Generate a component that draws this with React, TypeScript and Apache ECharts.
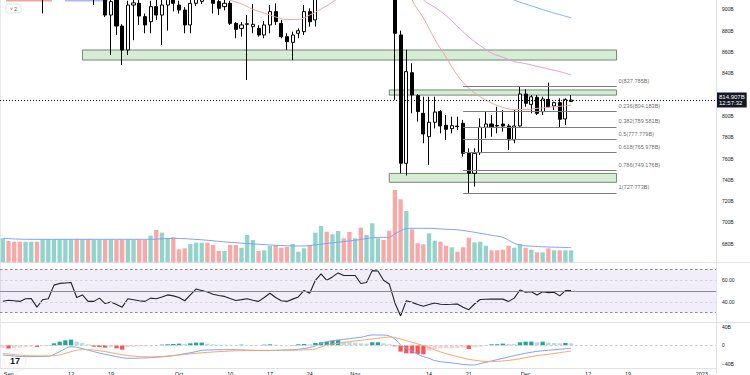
import { useEffect, useRef } from "react";
import * as echarts from "echarts";

// ---------- categories (daily, 31 Aug 2022 .. 3 Jan 2023) ----------
const START_UTC = Date.UTC(2022, 7, 31);
const CATEGORY_COUNT = 126;
const categories: string[] = Array.from({ length: CATEGORY_COUNT }, (_, i) =>
  new Date(START_UTC + i * 86400000).toISOString().slice(0, 10)
);

const tickLabels: Record<string, string> = {
  "2022-09-01": "Sep", "2022-09-12": "12", "2022-09-19": "19",
  "2022-10-01": "Oct", "2022-10-10": "10", "2022-10-17": "17", "2022-10-24": "24",
  "2022-11-01": "Nov", "2022-11-14": "14", "2022-11-21": "21",
  "2022-12-01": "Dec", "2022-12-12": "12", "2022-12-19": "19",
  "2023-01-01": "2023",
};

const priceTicks = [680, 700, 720, 740, 760, 780, 800, 820, 840, 860, 880, 900];
const rsiTicks = [40, 60];
const macdTicks = [40, 0, -40];

// ---------- candles [open, close, low, high] (B) ----------
const candles: number[][] = [
  [935, 940, 925, 955], [940, 930, 922, 948], [930, 925, 915, 938], [925, 922, 917, 930],
  [922, 928, 918, 933], [928, 932, 925, 940], [932, 912, 910, 937], [912, 925, 896.2, 928],
  [925, 930, 918, 935], [930, 965, 928, 968], [965, 975, 960, 982], [975, 978, 968, 985],
  [978, 985, 970, 995], [985, 935, 928, 992], [935, 940, 925, 945], [940, 925, 915, 945],
  [925, 930, 904, 935], [930, 932, 912, 945], [932, 894.6, 892.8, 935], [894.6, 907.2, 857.1, 912],
  [910, 884.3, 876, 918], [884.3, 861.8, 847.7, 886], [861.8, 904, 857.1, 908], [904, 906, 871, 912],
  [905.6, 893.7, 885.3, 910], [893.1, 885.3, 877.5, 896], [888.4, 902.5, 877.5, 908], [902.5, 894.6, 890, 909],
  [894.6, 904, 866.5, 912], [904, 910, 880, 915], [915, 905.6, 898, 918], [904, 899.3, 896, 908],
  [899.3, 885.3, 877.5, 902], [885.3, 905.6, 877.5, 909], [905.6, 912, 903, 918], [907.5, 912, 905, 920],
  [914, 910, 909, 921], [912, 905.6, 896, 916], [907.2, 900.9, 894.6, 912], [902.5, 905.6, 899, 910],
  [905.6, 886.8, 885.3, 908], [886.8, 881.2, 872.8, 888], [882.1, 885.3, 874.3, 888], [885.9, 886.4, 833.7, 894.6],
  [883.7, 885.9, 877.5, 905], [882.1, 875.9, 874.3, 885], [875.9, 885.3, 872.8, 889], [885.3, 897.8, 877.5, 904],
  [897.8, 888.4, 885.3, 905.6], [886.8, 874.3, 872.8, 890], [874.3, 869.6, 861.8, 877.5], [869, 875.9, 852.4, 879],
  [877.5, 879.9, 872.8, 882.1], [879, 897.8, 875.9, 904], [897.8, 888.4, 883.7, 900.9], [890, 925, 883.7, 930],
  [925, 950, 918, 955], [950, 940, 930, 958], [940, 948, 935, 955], [948, 960, 942, 966],
  [960, 955, 948, 968], [955, 953, 945, 962], [953, 958, 946, 965], [958, 940, 935, 962],
  [940, 942, 932, 948], [942, 975, 938, 982], [975, 978, 968, 985], [978, 960, 955, 982],
  [960, 955, 940, 965], [955, 877.5, 815, 960], [875.9, 755.5, 746.1, 880], [755.5, 841.5, 744, 862],
  [840.5, 819.6, 802.4, 849.3], [819, 804, 794.6, 820.5], [802.4, 783, 774.3, 818], [780.5, 794, 754, 818],
  [794, 803.6, 788.3, 818], [804, 790.5, 783.6, 805.5], [791.2, 787.4, 777.4, 800.8], [788, 790.8, 783.6, 799.3],
  [790.5, 789.9, 786.8, 799.3], [793, 764.9, 761.7, 796.2], [764.9, 746.1, 727.8, 769.6], [746.1, 764.9, 733.6, 769.6],
  [765.5, 789.3, 763.3, 797.7], [789.3, 792.4, 779, 804], [792.4, 789.9, 780.5, 800.8], [791, 790.5, 783.6, 808.6],
  [792.4, 790.5, 785.2, 805.5], [790.5, 777.4, 768, 792.4], [777.4, 790.5, 774.3, 805.5], [790.5, 820.5, 789.9, 827.8],
  [820.5, 811.8, 808.6, 824.9], [810.8, 817.9, 802.4, 819.6], [817.4, 802.4, 800.8, 819.6], [804, 815.8, 800.8, 818],
  [815.5, 808.6, 808, 831.2], [809.3, 812.4, 805.5, 813.4], [812.4, 796.8, 789.3, 816.5], [797.1, 815.5, 791.5, 816.5],
  [813.5, 814.907, 813, 819.6],
];

const lastPrice = 814.907;
const lastPriceLabel = "814.907B\n12:57:32";

// ---------- moving averages on price [index, value] ----------
const maRed: number[][] = [
  [36, 916], [38, 912], [40, 908.5], [42, 905], [44, 900], [46, 896.5], [48, 892.8], [50, 890.4],
  [52, 890.5], [54, 894.6], [56, 900.3], [58, 906.8], [60, 915], [62, 925], [64, 935], [66, 945],
  [68, 950], [70, 945], [71, 930], [72, 909], [74, 892], [76, 872], [78, 855], [80, 838],
  [82, 826], [84, 818], [86, 812], [88, 808], [90, 806], [92, 806], [94, 807], [96, 808],
  [98, 809], [100, 810],
];
const maMagenta: number[][] = [
  [66, 960], [70, 945], [72, 925], [74, 909], [76, 902], [78, 894], [80, 884], [82, 874],
  [84, 866], [86, 859], [88, 855], [90, 851], [92, 849], [94, 846.5], [96, 844], [98, 841.5], [100, 838.5],
];
const maBlue: number[][] = [
  [80, 940], [86, 920], [90, 908.7], [92, 905], [94, 901.5], [96, 898], [98, 895], [100, 892],
];

// ---------- fibonacci retracement + zones ----------
const fibLevels = [
  { ratio: "0", value: 827.785 },
  { ratio: "0.236", value: 804.183 },
  { ratio: "0.382", value: 789.581 },
  { ratio: "0.5", value: 777.779 },
  { ratio: "0.618", value: 765.978 },
  { ratio: "0.786", value: 749.176 },
  { ratio: "1", value: 727.773 },
];
const fibStart = 80.8;
const fibEnd = 107.7;

const zones = [
  { from: 13.9, to: 107.7, low: 852.4, high: 861.8 },
  { from: 67.8, to: 107.7, low: 819.5, high: 824.3 },
  { from: 67.8, to: 107.7, low: 737.7, high: 746.0 },
];

// ---------- volume (B) ----------
const volume: number[] = [
  48, 42.6, 41.2, 41.2, 41.2, 41.2, 41.2, 46, 46, 46,
  46, 46, 46, 46, 46, 46, 44.6, 44.6, 44.6, 44.6,
  44.6, 44.6, 44.6, 44.6, 44.6, 44.6, 53.2, 64.6, 59.2, 48,
  50, 26, 28, 36.6, 39.2, 39.2, 39.2, 34.6, 22.6, 22.6,
  34.6, 34.6, 29.2, 54.6, 44.6, 22.6, 24, 32.6, 34.6, 29.2,
  30.6, 36.6, 21.2, 28, 34.6, 59.2, 72.6, 61.2, 56, 62.6,
  48, 60.6, 48, 69.2, 54.6, 78, 48, 44.6, 63.2, 144.6,
  126, 102.6, 66, 38, 36, 58, 43.2, 41.2, 33.2, 30,
  21.2, 30, 49.2, 40, 41.2, 33.2, 24, 24, 25.2, 33.2,
  29.2, 36.6, 29.2, 25.2, 20, 20, 28, 24, 24, 24, 24,
];
const volumeMA: number[][] = [
  [0, 48], [4, 46], [10, 46], [20, 46], [26, 46], [30, 48], [35, 45], [40, 40], [45, 36],
  [50, 33], [53, 32.6], [55, 35], [58, 39], [62, 44], [65, 49], [67, 50], [68, 50], [69, 57],
  [70, 63], [71, 67.5], [72, 68], [75, 68], [78, 66], [80, 65], [83, 60], [86, 54], [88, 50],
  [89, 44], [90, 38], [91, 34], [92, 33], [95, 31], [98, 30], [100, 29.4],
];

// ---------- RSI ----------
const rsi: number[] = [
  40.5, 41.5, 41, 40.4, 42.8, 43, 35.1, 41.9, 42.8, 55.4,
  57, 57.4, 57.8, 44, 46.4, 40.4, 40.4, 43.4, 38.4, 39.9,
  37.5, 35.1, 42.8, 41.9, 41, 40.4, 43.4, 42.8, 44.5, 46.4,
  45.5, 44, 41, 46.5, 51.8, 50.5, 49, 47, 45.8, 45,
  43, 41.3, 42, 42.8, 41.5, 40.4, 44, 47.9, 44, 41,
  40.4, 42.5, 44.5, 50.5, 47.9, 59.9, 65.8, 59.9, 63, 66.7,
  64.3, 64.3, 64.3, 56.9, 57.8, 68.8, 68.5, 59.9, 56.5, 39,
  27, 41, 39.5, 37.5, 36, 37.5, 39, 37.7, 37.5, 37.7,
  38, 35, 32.7, 38, 42.2, 42.4, 42.5, 42.5, 42.5, 40.4,
  43.4, 50.9, 48.8, 49.4, 46.4, 49.4, 48.5, 48.8, 45.5, 50.3, 50.3,
];

// ---------- MACD (B) ----------
const macdLine: number[][] = [
  [0, -20.9], [4, -24.5], [8, -23.8], [10, -13.7], [12, -2.9], [13, -4.3], [14, -7.2], [16, -13.7],
  [18, -19.5], [20, -24.5], [22, -28.1], [26, -26.7], [30, -22.3], [34, -13.7], [35, -10.8], [40, -9.4],
  [46, -11.5], [50, -10.1], [52, -8.6], [54, -5], [55, -1.4], [57, 7.9], [59, 11.5], [61, 14.4],
  [63, 17.3], [65, 22.3], [67, 22.3], [68, 20.2], [69, 13.7], [70, 0.7], [71, -6.5], [72, -12.3],
  [73, -19.5], [74, -24.5], [75, -28.1], [76, -33.2], [78, -36.8], [80, -39.6], [82, -42.5], [83, -42.5],
  [84, -39.6], [86, -33.9], [88, -28.1], [90, -22.3], [92, -17.3], [94, -13], [96, -10.8], [98, -8.6], [100, -6.5],
];
const signalLine: number[][] = [
  [0, -17.3], [4, -22.3], [8, -23], [10, -20.9], [12, -13.7], [13, -10.8], [14, -9.4], [16, -10.1],
  [18, -13.7], [20, -18], [22, -22.3], [26, -25.2], [30, -22.3], [34, -17.3], [38, -13.7], [42, -11.5],
  [46, -10.8], [50, -10.8], [54, -9.4], [55, -7.9], [57, 0.7], [59, 4.3], [61, 7.9], [63, 10.8],
  [65, 13.7], [66, 15.1], [68, 18], [69, 16.6], [70, 13.7], [71, 10.1], [72, 6.5], [74, -0.7],
  [76, -10.1], [78, -18], [80, -24.5], [82, -30.3], [84, -33.9], [86, -35.3], [88, -33.9], [90, -31],
  [92, -26.7], [94, -22.3], [96, -19.5], [98, -15.9], [100, -12.3],
];
const macdHist: number[] = [
  -6, -7, -6, -5, -4, -3, -3.6, -1.5, 0.5, 4.3,
  7.9, 10.8, 12.3, 7.9, 5, 2.2, -2.9, -3.6, -5, -4.3,
  -6.5, -9.4, -3.6, -2.9, -2.2, -2.1, -1.4, -0.5, 1.4, 2.2,
  2.9, 3.6, 2.9, 4.3, 5.8, 5.9, 3.6, 2.2, 1.4, 1.3,
  1.2, 0.7, 1.4, 0.7, 0.6, 0.5, 1.4, 2.2, 1.4, 0.7,
  0.3, 0.7, 2.2, 2.9, 2.2, 5, 6.5, 7.9, 9.4, 11.5,
  7.9, 6.5, 5.8, 4.3, 3.6, 6.5, 6.6, 4.3, 2.2, -2.2,
  -13.7, -17.3, -17.5, -18.7, -19.5, -11.5, -7.9, -6.5, -6.4, -6.3,
  -5.8, -5, -7.9, -4.3, -2.9, -1.4, 2.2, 2.3, 3.6, 2.9,
  2.9, 6.5, 7.9, 8, 6.5, 7.9, 5.8, 5, 4.3, 5, 4.3,
];

const FONT = "'Liberation Sans', Arial, sans-serif";
const PLOT_W = 716;

export default function App() {
  const ref = useRef<HTMLDivElement>(null);

  useEffect(() => {
    if (!ref.current) return;
    const chart = echarts.init(ref.current, undefined, { renderer: "svg" });

    const volData = volume.map((v, i) => ({
      value: v,
      itemStyle: { color: candles[i][1] >= candles[i][0] ? "#92d3cc" : "#f7a9a7" },
    }));
    const histData = macdHist.map((h, i) => {
      const prev = i > 0 ? macdHist[i - 1] : h;
      let color: string;
      if (h >= 0) color = h > prev ? "#26a69a" : "#b2dfdb";
      else color = h < prev ? "#ff5252" : "#ffcdd2";
      return { value: h, itemStyle: { color } };
    });

    const hiddenX = (gridIndex: number) => ({
      type: "category" as const,
      gridIndex,
      data: categories,
      boundaryGap: true,
      axisLine: { show: false },
      axisTick: { show: false },
      axisLabel: { show: false },
      splitLine: { show: false },
    });

    const sideLabel = { fontSize: 5, color: "#131722", fontFamily: FONT, margin: 6 };

    const option: any = {
      animation: false,
      backgroundColor: "#ffffff",
      grid: [
        { left: 0, top: 0, width: PLOT_W, height: 265.1 },
        { left: 0, top: 182.3, width: PLOT_W, height: 80 },
        { left: 0, top: 262.84, width: PLOT_W, height: 60.65 },
        { left: 0, top: 317.55, width: PLOT_W, height: 55.5 },
        { left: 0, top: 368, width: PLOT_W, height: 1 },
      ],
      xAxis: [
        hiddenX(0),
        hiddenX(1),
        hiddenX(2),
        hiddenX(3),
        {
          type: "category",
          gridIndex: 4,
          data: categories,
          boundaryGap: true,
          axisLine: { show: true, lineStyle: { color: "#e0e3eb" } },
          axisTick: { show: false },
          splitLine: { show: false },
          axisLabel: {
            show: true,
            interval: 0,
            margin: 3,
            fontSize: 5.5,
            color: "#131722",
            fontFamily: FONT,
            formatter: (v: string) => tickLabels[v] ?? "",
          },
        },
      ],
      yAxis: [
        {
          type: "value",
          gridIndex: 0,
          position: "right",
          min: 660,
          max: 908.72,
          interval: 20,
          axisLine: { show: true, lineStyle: { color: "#e0e3eb" } },
          axisTick: { show: false },
          splitLine: { show: false },
          axisLabel: {
            ...sideLabel,
            showMaxLabel: false,
            formatter: (v: number) => (priceTicks.includes(v) ? `${v}B` : ""),
          },
        },
        { type: "value", gridIndex: 1, min: 0, max: 160, show: false },
        {
          type: "value",
          gridIndex: 2,
          position: "right",
          min: 20,
          max: 76,
          interval: 10,
          axisLine: { show: true, lineStyle: { color: "#e0e3eb" } },
          axisTick: { show: false },
          splitLine: { show: false },
          axisLabel: {
            ...sideLabel,
            showMaxLabel: false,
            formatter: (v: number) => (rsiTicks.includes(v) ? v.toFixed(2) : ""),
          },
        },
        {
          type: "value",
          gridIndex: 3,
          position: "right",
          min: -60,
          max: 60,
          interval: 20,
          axisLine: { show: true, lineStyle: { color: "#e0e3eb" } },
          axisTick: { show: false },
          splitLine: { show: false },
          axisLabel: {
            ...sideLabel,
            formatter: (v: number) =>
              macdTicks.includes(v) ? (v === 0 ? "0" : v > 0 ? `${v}B` : `\u2212${-v}B`) : "",
          },
        },
        { type: "value", gridIndex: 4, show: false },
      ],
      series: [
        // volume (drawn first, behind candles)
        {
          type: "bar",
          xAxisIndex: 1,
          yAxisIndex: 1,
          data: volData,
          barCategoryGap: "24%",
          silent: true,
        },
        {
          type: "line",
          xAxisIndex: 1,
          yAxisIndex: 1,
          data: volumeMA,
          showSymbol: false,
          smooth: 0.3,
          lineStyle: { color: "#7fa2f7", width: 1 },
          silent: true,
        },
        {
          type: "candlestick",
          xAxisIndex: 0,
          yAxisIndex: 0,
          data: candles,
          barWidth: 3.6,
          itemStyle: {
            color: "#ffffff",
            color0: "#000000",
            borderColor: "#000000",
            borderColor0: "#000000",
            borderWidth: 1,
          },
          markArea: {
            silent: true,
            itemStyle: {
              color: "rgba(186, 224, 184, 0.6)",
              borderColor: "#6f8a6f",
              borderWidth: 1,
            },
            data: zones.map((z) => [
              { coord: [z.from, z.high] },
              { coord: [z.to, z.low] },
            ]),
          },
          markLine: {
            silent: true,
            symbol: ["none", "none"],
            data: [
              ...fibLevels.map((f) => [
                {
                  coord: [fibStart, f.value],
                  lineStyle: { color: "#7d7d7d", width: 1, type: "solid" },
                  label: { show: false },
                },
                { coord: [fibEnd, f.value] },
              ]),
              {
                yAxis: lastPrice,
                lineStyle: { color: "#131722", width: 1, type: [1, 2] },
                label: {
                  show: true,
                  position: "end",
                  distance: 1,
                  formatter: lastPriceLabel,
                  backgroundColor: "#131722",
                  color: "#ffffff",
                  fontSize: 6,
                  lineHeight: 6.5,
                  fontFamily: FONT,
                  padding: [1, 2, 1, 2],
                },
              },
            ],
          },
        },
        {
          type: "line",
          xAxisIndex: 0,
          yAxisIndex: 0,
          data: maRed,
          showSymbol: false,
          smooth: 0.4,
          lineStyle: { color: "#f4a3a0", width: 1 },
          silent: true,
        },
        {
          type: "line",
          xAxisIndex: 0,
          yAxisIndex: 0,
          data: maMagenta,
          showSymbol: false,
          smooth: 0.4,
          lineStyle: { color: "#e79ae9", width: 1 },
          silent: true,
        },
        {
          type: "line",
          xAxisIndex: 0,
          yAxisIndex: 0,
          data: maBlue,
          showSymbol: false,
          smooth: 0.4,
          lineStyle: { color: "#77b9ef", width: 1 },
          silent: true,
        },
        // fib labels
        {
          type: "scatter",
          xAxisIndex: 0,
          yAxisIndex: 0,
          symbolSize: 0,
          silent: true,
          data: fibLevels.map((f) => ({
            value: [108, f.value],
            name: `${f.ratio}(${f.value.toFixed(3)}B)`,
          })),
          label: {
            show: true,
            position: "right",
            distance: 2,
            offset: [0, -5.5],
            formatter: (p: any) => p.name,
            fontSize: 5.6,
            color: "#444",
            fontFamily: FONT,
          },
        },
        // RSI
        {
          type: "line",
          xAxisIndex: 2,
          yAxisIndex: 2,
          data: rsi,
          showSymbol: false,
          lineStyle: { color: "#1e222d", width: 1.1 },
          silent: true,
          markArea: {
            silent: true,
            itemStyle: { color: "rgba(126, 87, 194, 0.1)" },
            data: [[{ yAxis: 70 }, { yAxis: 30 }]],
          },
          markLine: {
            silent: true,
            symbol: ["none", "none"],
            label: { show: false },
            data: [
              { yAxis: 70, lineStyle: { color: "#8a8d96", type: [2.5, 2.5], width: 1 } },
              { yAxis: 30, lineStyle: { color: "#8a8d96", type: [2.5, 2.5], width: 1 } },
              { yAxis: 60, lineStyle: { color: "#d2d0e2", type: [2.5, 2.5], width: 1 } },
              { yAxis: 40, lineStyle: { color: "#d2d0e2", type: [2.5, 2.5], width: 1 } },
              { yAxis: 50, lineStyle: { color: "#8a8d96", type: "solid", width: 1 } },
            ],
          },
        },
        // MACD
        {
          type: "bar",
          xAxisIndex: 3,
          yAxisIndex: 3,
          data: histData,
          barCategoryGap: "24%",
          silent: true,
          markLine: {
            silent: true,
            symbol: ["none", "none"],
            label: { show: false },
            data: [{ yAxis: 0, lineStyle: { color: "#c9cbd2", type: [2.5, 2.5], width: 1 } }],
          },
        },
        {
          type: "line",
          xAxisIndex: 3,
          yAxisIndex: 3,
          data: macdLine,
          showSymbol: false,
          smooth: 0.3,
          clip: false,
          lineStyle: { color: "#7ea3ff", width: 1 },
          silent: true,
        },
        {
          type: "line",
          xAxisIndex: 3,
          yAxisIndex: 3,
          data: signalLine,
          showSymbol: false,
          smooth: 0.3,
          clip: false,
          lineStyle: { color: "#ffa468", width: 1 },
          silent: true,
        },
      ],
      graphic: [
        { type: "line", shape: { x1: 0, y1: 262.5, x2: 750, y2: 262.5 }, style: { stroke: "#e0e3eb", lineWidth: 1 }, silent: true },
        { type: "line", shape: { x1: 0, y1: 322.5, x2: 750, y2: 322.5 }, style: { stroke: "#e0e3eb", lineWidth: 1 }, silent: true },
        { type: "line", shape: { x1: 0.5, y1: 0, x2: 0.5, y2: 369 }, style: { stroke: "#e6e8ee", lineWidth: 1 }, silent: true },
        { type: "rect", shape: { x: 6, y: 0, width: 46, height: 1.5 }, style: { fill: "#f3a0a0" }, silent: true },
        { type: "rect", shape: { x: 65, y: 0, width: 43, height: 1.5 }, style: { fill: "#a9b9f4" }, silent: true },
        {
          type: "rect",
          shape: { x: 6, y: 4, width: 15, height: 9, r: 2 },
          style: { fill: "#ffffff", stroke: "#e0e3eb", lineWidth: 1 },
          silent: true,
        },
        {
          type: "text",
          x: 13.5,
          y: 8.7,
          style: { text: "\u02c5 2", fontSize: 5, fill: "#555", fontFamily: FONT, align: "center", verticalAlign: "middle" },
          silent: true,
        },
        {
          type: "circle",
          shape: { cx: 15, cy: 361, r: 10 },
          style: { fill: "#ffffff", shadowBlur: 3, shadowColor: "rgba(0,0,0,0.15)" },
          silent: true,
        },
        {
          type: "text",
          x: 15,
          y: 361,
          style: { text: "17", fontSize: 9, fontWeight: "bold", fill: "#131722", fontFamily: FONT, align: "center", verticalAlign: "middle" },
          silent: true,
        },
      ],
    };

    chart.setOption(option);
    return () => chart.dispose();
  }, []);

  return (
    <div
      ref={ref}
      style={{ position: "fixed", left: 0, top: 0, width: 750, height: 375, background: "#fff" }}
    />
  );
}
